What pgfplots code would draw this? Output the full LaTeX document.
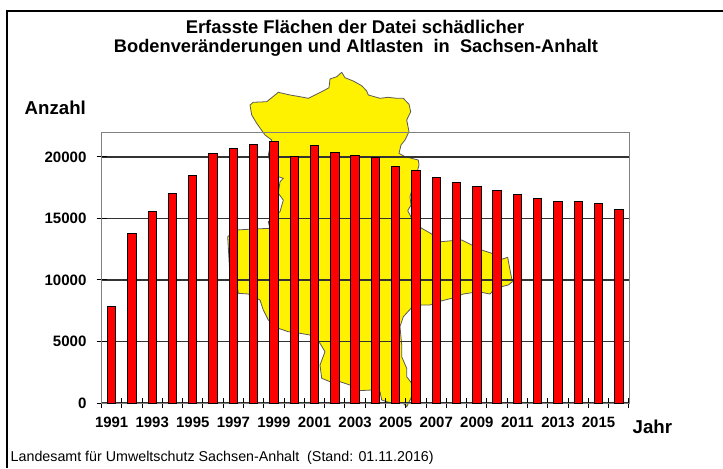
\documentclass[border=0pt]{standalone}
\usepackage{fontspec}
\setmainfont{Liberation Sans}
\usepackage{pgfplots}
\pgfplotsset{compat=1.18}
\usepackage{pgfplotstable}

% one picture pixel of the reference = 0.75pt
\pgfplotstableread{
year n
0 7850
1 13800
2 15550
3 17000
4 18500
5 20270
6 20650
7 21030
8 21220
9 20000
10 20950
11 20380
12 20080
13 19940
14 19240
15 18860
16 18320
17 17940
18 17560
19 17260
20 16910
21 16610
22 16420
23 16340
24 16230
25 15770
}\flaechen

\begin{document}
\begin{tikzpicture}
\useasboundingbox (0,0) rectangle (542.25pt,351pt);
% page layer in pixel coordinates: frame, map, texts
\begin{axis}[
  at={(0pt,0pt)},
  anchor=south west,
  scale only axis,
  width=542.25pt,
  height=351pt,
  xmin=0, xmax=723,
  ymin=0, ymax=468,
  y dir=reverse,
  hide axis,
  clip=false
]
\addplot[black, line width=1pt] coordinates {(7,468) (7,11) (723,11)};
\addplot[fill=yellow, draw=black!65, line width=0.6pt] coordinates {
  (341.7,72.3) (345,77.7) (353.3,81) (361.7,85.7) (366.7,91) (368.3,95)
  (380,98.3) (388.3,97.3) (396.7,98.3) (403.3,98.3) (409,104.3) (410.7,111.7)
  (406.7,120) (409,131.7) (405,140) (401,145) (399,153.3) (405,156.7)
  (418.3,160) (419,165) (415,180) (410,196.7) (411,205) (407.7,210.7)
  (411.7,218.3) (421.7,228.3) (431.7,234) (441,241.7) (451.7,240.7)
  (461.7,240) (471.7,245) (481.7,250) (491.7,253.3) (501.7,259.3)
  (507.7,257.3) (510,270) (512.3,281.7) (508.3,285) (495,288.3) (490,294)
  (478.3,291.7) (463.3,294) (451.7,298.3) (438.3,301.7) (430,305)
  (421.7,305) (411,308.3) (403.3,316.7) (400,326.7) (401.7,345) (401.7,356.7)
  (406.7,368.3) (406.7,376.7) (411.7,383.3) (411.7,396.7) (406.7,406.7)
  (403.3,403.3) (391.7,403.3) (381.7,400) (380,391.7) (371.7,390)
  (358.3,390.7) (350,385) (340,381.7) (330,381.7) (321.7,378.3) (320,365)
  (325,351.7) (320,343.3) (310,335) (300,333.3) (288.3,331.7) (278.3,328.3)
  (268.3,320) (263.3,310) (260,300) (248.3,294) (238.3,293.3) (236.7,283.3)
  (230,276.7) (227.7,236.7) (236.7,230) (248.3,229.3) (270,228.3)
  (268.3,221.7) (280,211.7) (283.3,200) (278.3,193.3) (280,181.7)
  (283.3,178.3) (278.3,176.7) (270,163.3) (268.3,155) (271.7,140) (265,135)
  (256.7,123.3) (251.7,115) (250,105) (253.3,102.3) (266.7,101.7) (275,95)
  (278.3,92.3) (290,95) (300,96.7) (308.3,98.3) (321.7,91.7) (329,87.7)
  (330,79) (336.7,76.7) (341.7,72.3)
};
\node[font=\bfseries\fontsize{13.8pt}{16pt}\selectfont] at (axis cs:355,27) {Erfasste Flächen der Datei schädlicher};
\node[font=\bfseries\fontsize{13.7pt}{16pt}\selectfont] at (axis cs:356,48) {Bodenveränderungen und Altlasten\ \ in\ \ Sachsen-Anhalt};
\node[font=\bfseries\fontsize{14pt}{16pt}\selectfont, anchor=west] at (axis cs:20,108) {Anzahl};
\node[font=\bfseries\fontsize{14pt}{16pt}\selectfont, anchor=west] at (axis cs:628,427) {Jahr};
\node[font=\fontsize{10.7pt}{12pt}\selectfont, anchor=west] at (axis cs:6,458) {Landesamt für Umweltschutz Sachsen-Anhalt\ \ (Stand: 01.11.2016)};
\end{axis}
% chart layer
\begin{axis}[
  at={(76.125pt,48.75pt)},
  anchor=south west,
  scale only axis,
  width=395.6pt,
  height=203.25pt,
  xmin=-0.5, xmax=25.5,
  ymin=0, ymax=22030,
  ybar,
  bar width=6.3pt,
  xtick={0,2,...,24},
  xticklabels={1991,1993,1995,1997,1999,2001,2003,2005,2007,2009,2011,2013,2015},
  minor xtick={-0.5,0.5,...,25.5},
  ytick={0,5000,10000,15000,20000},
  scaled y ticks=false,
  tick align=center,
  major tick length=7.5pt,
  minor tick length=8pt,
  major x tick style={draw=none},
  tick style={black, line width=0.75pt},
  minor tick style={black, line width=0.75pt},
  xtick pos=bottom,
  ytick pos=left,
  ymajorgrids=true,
  major grid style={black!80, line width=0.9pt},
  axis line style={black!50, line width=0.6pt},
  /pgf/number format/assume math mode=true,
  /pgf/number format/1000 sep={},
  yticklabel style={font=\bfseries\fontsize{11.3pt}{13pt}\selectfont, xshift=-4pt},
  xticklabel style={font=\bfseries\fontsize{11.2pt}{13pt}\selectfont, yshift=-3pt}
]
\addplot[draw=black, fill=red, line width=0.75pt] table[x=year, y=n] {\flaechen};
\end{axis}
\end{tikzpicture}
\end{document}
